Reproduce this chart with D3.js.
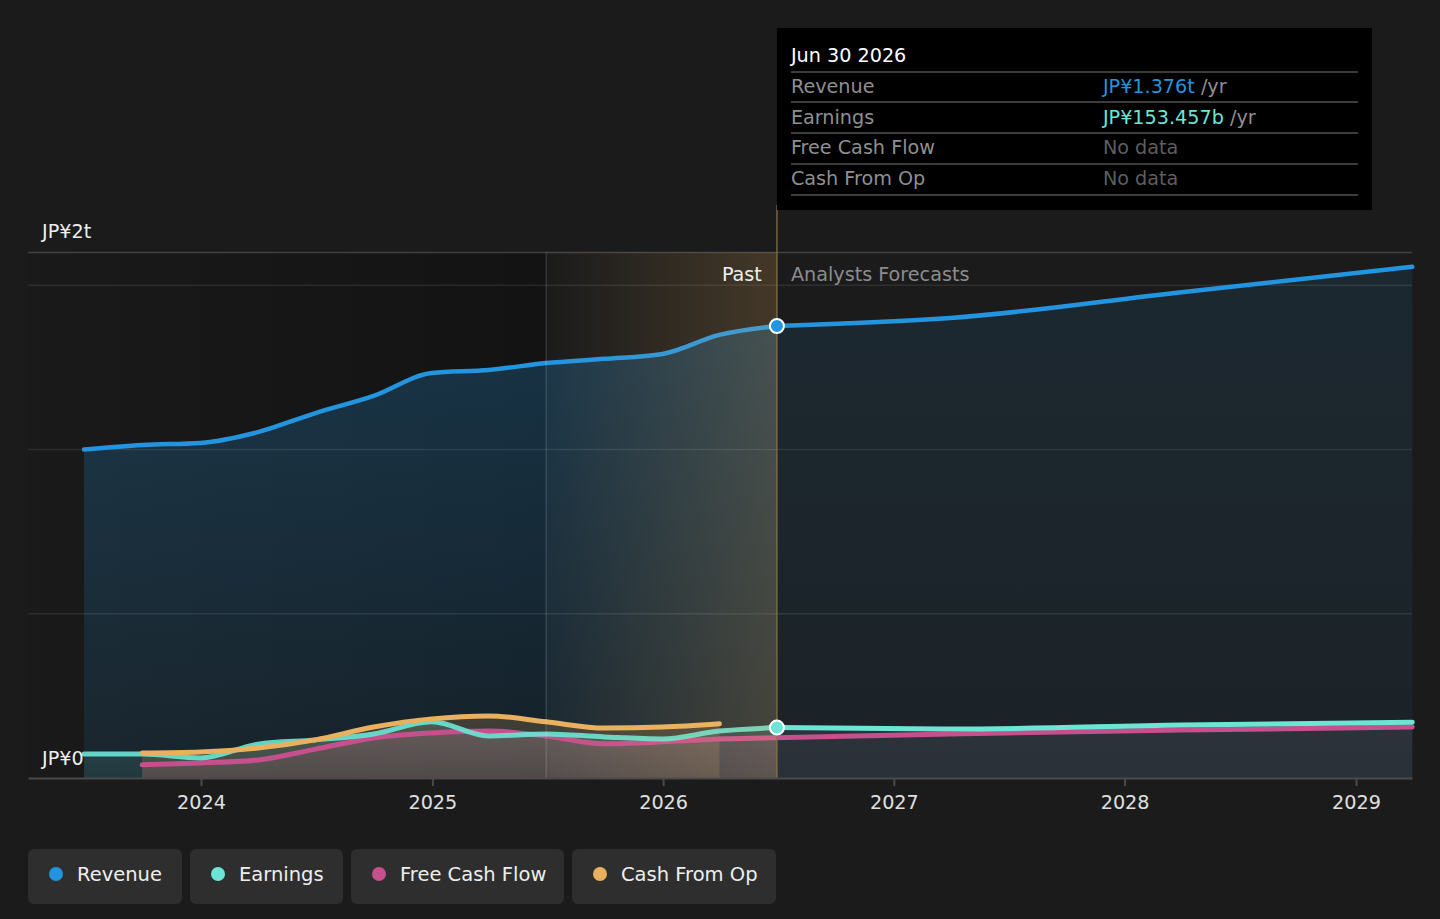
<!DOCTYPE html>
<html>
<head>
<meta charset="utf-8">
<script src="https://cdn.jsdelivr.net/npm/d3@7"></script>
<style>
  html, body { margin: 0; padding: 0; background: #1b1b1b; }
  svg { display: block; font-family: "DejaVu Sans", sans-serif; }
</style>
</head>
<body>
<svg id="chart" width="1440" height="919"></svg>
<script>
// ---------- DATA (values in JP¥ billions) ----------
const pastDates      = ["2023-06-30","2023-09-30","2023-12-31","2024-03-31","2024-06-30","2024-09-30","2024-12-31","2025-03-31","2025-06-30","2025-09-30","2025-12-31","2026-03-31","2026-06-30"];
const revenuePast    = [1000, 1014, 1020, 1053, 1111, 1163, 1233, 1242, 1263, 1276, 1291, 1349, 1376];
const earningsPast   = [73, 73, 61, 103, 116, 134, 171, 128, 134, 125, 119, 143, 153.457];

const cashDates      = ["2023-09-30","2023-12-31","2024-03-31","2024-06-30","2024-09-30","2024-12-31","2025-03-31","2025-06-30","2025-09-30","2025-12-31","2026-03-31"];
const fcfPast        = [40, 46, 55, 88, 122, 137, 143, 128, 104, 110, 119];
const cfoPast        = [76, 79, 91, 116, 155, 180, 189, 171, 152, 155, 165];

const forecastDates    = ["2026-06-30","2027-03-31","2028-03-31","2029-03-31"];
const revenueForecast  = [1376, 1400, 1479, 1556];
const earningsForecast = [153.457, 149, 161, 170];
const fcfForecastDates = ["2026-03-31","2027-03-31","2028-03-31","2029-03-31"];
const fcfForecast      = [119, 134, 146, 155];

const yearTicks   = ["2024","2025","2026","2027","2028","2029"];
const yTickLabels = ["JP¥0", "JP¥2t"];
const gridValues  = [500, 1000, 1500];
const seriesNames = ["Revenue", "Earnings", "Free Cash Flow", "Cash From Op"];
const seriesColors = ["#2394df", "#6ce5d5", "#c64f8d", "#e8b05f"];

const tooltipTitle = "Jun 30 2026";
const tooltipRows = [
  {label: "Revenue", value: "JP¥1.376t", unit: " /yr"},
  {label: "Earnings", value: "JP¥153.457b", unit: " /yr"},
  {label: "Free Cash Flow", value: null},
  {label: "Cash From Op", value: null}
];

// ---------- SETUP ----------
const parse = d3.timeParse("%Y-%m-%d");
const svg = d3.select("#chart");
const pL = 28, pR = 1412, pT = 252.4, pB = 778;
const FS = 19.2;

const xBase = d3.scaleTime()
  .domain([new Date(2024,0,1), new Date(2029,0,1)])
  .range([201, 1356]);
const x = d3.scaleTime()
  .domain([xBase.invert(pL), xBase.invert(pR)])
  .range([pL, pR]);
const y = d3.scaleLinear().domain([0, 1600]).range([pB, pT]);

const nowDate = parse("2026-06-30");
const pastStart = parse("2025-06-30");
const xNow = x(nowDate), xPastStart = x(pastStart);

const zip = (ds, vs) => ds.map((d,i) => ({date: parse(d), v: vs[i]}));
const revP = zip(pastDates, revenuePast);
const earP = zip(pastDates, earningsPast);
const fcfP = zip(cashDates, fcfPast);
const cfoP = zip(cashDates, cfoPast);
const revF = zip(forecastDates, revenueForecast);
const earF = zip(forecastDates, earningsForecast);
const fcfF = zip(fcfForecastDates, fcfForecast);

const line = d3.line().x(d => x(d.date)).y(d => y(d.v)).curve(d3.curveMonotoneX);
const area = d3.area().x(d => x(d.date)).y0(y(0)).y1(d => y(d.v)).curve(d3.curveMonotoneX);

const defs = svg.append("defs");
function lg(id, x1, x2, y1, y2, stops) {
  const g = defs.append("linearGradient").attr("id", id)
    .attr("x1", x1).attr("x2", x2).attr("y1", y1).attr("y2", y2);
  stops.forEach(s => g.append("stop").attr("offset", s[0]).attr("stop-color", s[1]).attr("stop-opacity", s[2]));
}
lg("darkPast", "0", "1", "0", "0", [[0, "#000", 0.05], [1, "#000", 0.3]]);
lg("goldHi", "0", "1", "0", "0", [[0, "#ffbe64", 0.0], [1, "#ffbe64", 0.18]]);
lg("revArea", "0", "0", "0", "1", [[0, seriesColors[0], 0.25], [1, seriesColors[0], 0.10]]);
lg("revAreaF", "0", "0", "0", "1", [[0, seriesColors[0], 0.11], [1, seriesColors[0], 0.06]]);
lg("earArea", "0", "0", "0", "1", [[0, seriesColors[1], 0.18], [1, seriesColors[1], 0.10]]);
lg("fcfArea", "0", "0", "0", "1", [[0, seriesColors[2], 0.20], [1, seriesColors[2], 0.14]]);
lg("cfoArea", "0", "0", "0", "1", [[0, seriesColors[3], 0.20], [1, seriesColors[3], 0.14]]);
lg("fcstLow", "0", "0", "0", "1", [[0, "#9098b0", 0.14], [1, "#9098b0", 0.12]]);

defs.append("clipPath").attr("id", "pastClip").append("rect")
  .attr("x", pL).attr("y", pT).attr("width", xNow - pL).attr("height", pB - pT);

// dark past background
svg.append("rect").attr("x", pL).attr("y", pT).attr("width", xPastStart - pL).attr("height", pB - pT)
  .attr("fill", "url(#darkPast)");

// revenue areas
svg.append("path").datum(revP).attr("d", area).attr("fill", "url(#revArea)");
svg.append("path").datum(revF).attr("d", area).attr("fill", "url(#revAreaF)");
// lower areas
svg.append("path").datum(earP).attr("d", area).attr("fill", "url(#earArea)");
svg.append("path").datum(fcfP).attr("d", area).attr("fill", "url(#fcfArea)");
svg.append("path").datum(fcfF).attr("d", area).attr("fill", "url(#fcfArea)").attr("clip-path", "url(#pastClip)");
svg.append("path").datum(cfoP).attr("d", area).attr("fill", "url(#cfoArea)");
svg.append("path").datum(earF).attr("d", area).attr("fill", "url(#fcstLow)");

// gridlines
svg.append("g").selectAll("line").data(gridValues).join("line")
  .attr("x1", pL).attr("x2", pR).attr("y1", d => y(d)).attr("y2", d => y(d))
  .attr("stroke", "#ffffff").attr("stroke-opacity", 0.09).attr("stroke-width", 1.5);
svg.append("line").attr("x1", pL).attr("x2", pR).attr("y1", pT).attr("y2", pT)
  .attr("stroke", "#ffffff").attr("stroke-opacity", 0.18).attr("stroke-width", 1.5);

// lines
const drawLine = (data, color, w) => svg.append("path").datum(data).attr("d", line)
  .attr("fill", "none").attr("stroke", color).attr("stroke-width", w).attr("stroke-linecap", "round");
drawLine(fcfF, seriesColors[2], 5);
drawLine(earF, seriesColors[1], 5);
drawLine(revF, seriesColors[0], 4.5);
drawLine(fcfP, seriesColors[2], 5);
drawLine(earP, seriesColors[1], 5).attr("stroke-opacity", 0.9);
drawLine(cfoP, seriesColors[3], 5);
drawLine(revP, seriesColors[0], 4.5);

// gold highlight on past year
svg.append("rect").attr("x", xPastStart).attr("y", pT).attr("width", xNow - xPastStart).attr("height", pB - pT)
  .attr("fill", "url(#goldHi)");
svg.append("line").attr("x1", xPastStart).attr("x2", xPastStart).attr("y1", pT).attr("y2", pB)
  .attr("stroke", "#ffffff").attr("stroke-opacity", 0.13).attr("stroke-width", 1.5);
svg.append("line").attr("x1", xNow).attr("x2", xNow).attr("y1", 205).attr("y2", pB)
  .attr("stroke", "#8a7448").attr("stroke-opacity", 0.8).attr("stroke-width", 1.5);

// markers
svg.append("circle").attr("cx", xNow).attr("cy", y(revenueForecast[0])).attr("r", 7)
  .attr("fill", seriesColors[0]).attr("stroke", "#fff").attr("stroke-width", 2);
svg.append("circle").attr("cx", xNow).attr("cy", y(earningsForecast[0])).attr("r", 7)
  .attr("fill", seriesColors[1]).attr("stroke", "#fff").attr("stroke-width", 2);

// Past / Forecast labels
svg.append("text").attr("x", xNow - 15).attr("y", 281).attr("text-anchor", "end")
  .attr("fill", "#eeeeee").attr("font-size", FS).text("Past");
svg.append("text").attr("x", xNow + 14).attr("y", 281)
  .attr("fill", "#8c8c8c").attr("font-size", FS).text("Analysts Forecasts");

// x axis
const xAxis = d3.axisBottom(x)
  .tickValues(yearTicks.map(t => new Date(+t, 0, 1)))
  .tickFormat(d3.timeFormat("%Y")).tickSize(8).tickSizeOuter(0);
const gx = svg.append("g").attr("transform", `translate(0,${pB})`).call(xAxis);
gx.select(".domain").attr("stroke", "#4a4a4a").attr("stroke-width", 2);
gx.selectAll(".tick line").attr("stroke", "#4a4a4a").attr("stroke-width", 2);
gx.selectAll(".tick text").attr("fill", "#e0e0e0").attr("font-size", FS)
  .attr("font-family", "DejaVu Sans, sans-serif").attr("dy", "1.05em");

// y labels
svg.append("text").attr("x", 42).attr("y", y(0) - 13).attr("fill", "#eeeeee").attr("font-size", FS).text(yTickLabels[0]);
svg.append("text").attr("x", 42).attr("y", pT - 14).attr("fill", "#eeeeee").attr("font-size", FS).text(yTickLabels[1]);

// tooltip
const tt = svg.append("g");
tt.append("rect").attr("x", xNow).attr("y", 28).attr("width", 595).attr("height", 182).attr("fill", "#000");
tt.append("text").attr("x", xNow + 14).attr("y", 62).attr("fill", "#ffffff").attr("font-size", FS).text(tooltipTitle);
const rowLines = [72, 102, 133, 164, 195];
rowLines.forEach(ly => tt.append("line").attr("x1", xNow + 14).attr("x2", xNow + 581)
  .attr("y1", ly).attr("y2", ly).attr("stroke", "#3c3c3c").attr("stroke-width", 2));
tooltipRows.forEach((r, i) => {
  const by = 93 + i * 30.5;
  tt.append("text").attr("x", xNow + 14).attr("y", by).attr("fill", "#8f8f8f").attr("font-size", FS).text(r.label);
  const t = tt.append("text").attr("x", xNow + 326).attr("y", by).attr("font-size", FS);
  if (r.value) {
    t.append("tspan").attr("fill", seriesColors[i]).text(r.value);
    t.append("tspan").attr("fill", "#8f8f8f").text(r.unit);
  } else {
    t.attr("fill", "#5e5e5e").text("No data");
  }
});

// legend
const legendX = [28, 190, 351, 572];
const legendW = [154, 153, 213, 204];
const lgG = svg.append("g");
seriesNames.forEach((n, i) => {
  lgG.append("rect").attr("x", legendX[i]).attr("y", 849).attr("width", legendW[i]).attr("height", 55)
    .attr("rx", 6).attr("fill", "#2e2e2e");
  lgG.append("circle").attr("cx", legendX[i] + 28).attr("cy", 874).attr("r", 7).attr("fill", seriesColors[i]);
  lgG.append("text").attr("x", legendX[i] + 49).attr("y", 881).attr("fill", "#eeeeee").attr("font-size", 19.5).text(n);
});
</script>
</body>
</html>
